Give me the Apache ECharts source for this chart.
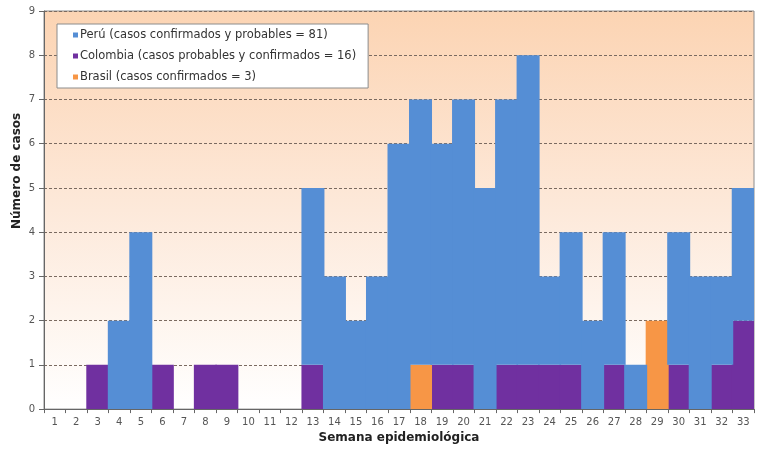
<!DOCTYPE html>
<html>
<head>
<meta charset="utf-8">
<script src="https://cdn.jsdelivr.net/npm/echarts@6/dist/echarts.min.js"></script>
<style>
html,body{margin:0;padding:0;background:#fff;}
#chart{width:763px;height:449px;}
</style>
</head>
<body>
<div id="chart"></div>
<script>
const weeks = ['1','2','3','4','5','6','7','8','9','10','11','12','13','14','15','16','17','18','19','20','21','22','23','24','25','26','27','28','29','30','31','32','33'];
const peru     = [0,0,0,2,4,0,0,0,0,0,0,0,4,3,2,3,6,6,5,6,5,6,7,2,3,2,3,1,0,3,3,2,3];
const colombia = [0,0,1,0,0,1,0,1,1,0,0,0,1,0,0,0,0,0,1,1,0,1,1,1,1,0,1,0,0,1,0,1,2];
const brasil   = [0,0,0,0,0,0,0,0,0,0,0,0,0,0,0,0,0,1,0,0,0,0,0,0,0,0,0,0,2,0,0,0,0];
const seriesNames = ['Perú (casos confirmados y probables = 81)','Colombia (casos probables y confirmados = 16)','Brasil (casos confirmados = 3)'];
const yTicks = [0,1,2,3,4,5,6,7,8,9];

const chart = echarts.init(document.getElementById('chart'), null, {renderer:'canvas'});
const font = 'DejaVu Sans';
function bar(name, data, color){
  return {name:name,type:'bar',stack:'t',data:data.map(v => v === 0 ? '-' : v),
    barWidth:23,barCategoryGap:'0%',
    itemStyle:{color:color}};
}
chart.setOption({
  animation:false,
  textStyle:{fontFamily:font},
  grid:{left:44,right:9,top:11,bottom:35,show:true,borderColor:'#8c8c8c',borderWidth:1,
    backgroundColor:{type:'linear',x:0,y:0,x2:0,y2:1,colorStops:[{offset:0,color:'#fcd4b3'},{offset:0.5,color:'#fde9da'},{offset:1,color:'#ffffff'}]}},
  legend:{
    orient:'vertical',left:57,top:24,
    backgroundColor:'#ffffff',borderColor:'#8c8c8c',borderWidth:1,
    padding:[4,12,4,16],itemGap:7,itemWidth:5,itemHeight:5,
    icon:'rect',
    data:seriesNames,
    textStyle:{fontFamily:font,fontSize:11.5,color:'#333',padding:[0,0,0,-3],lineHeight:14}
  },
  xAxis:{
    type:'category',data:weeks,
    axisLine:{lineStyle:{color:'#666',width:1}},
    axisTick:{show:true,length:4,lineStyle:{color:'#666'}},
    axisLabel:{fontFamily:font,fontSize:10,color:'#555',margin:8},
    name:'Semana epidemiológica',nameLocation:'middle',nameGap:22,
    nameTextStyle:{fontFamily:font,fontSize:12,fontWeight:'bold',color:'#222'}
  },
  yAxis:{
    type:'value',min:0,max:9,interval:1,
    axisLine:{show:true,lineStyle:{color:'#666',width:1}},
    axisTick:{show:true,length:5,lineStyle:{color:'#666'}},
    axisLabel:{fontFamily:font,fontSize:10,color:'#555',margin:9},
    splitLine:{show:true,lineStyle:{color:'#7a6a60',type:[3,2],width:1}}
  },
  graphic:[{type:'text',rotation:Math.PI/2,x:11,y:229,
    style:{text:'Número de casos',font:'bold 12px "DejaVu Sans"',fill:'#222'}}],
  series:[
    bar(seriesNames[1], colombia, '#7030a0'),
    bar(seriesNames[2], brasil, '#f79646'),
    bar(seriesNames[0], peru, '#558ed5')
  ]
});
</script>
</body>
</html>
